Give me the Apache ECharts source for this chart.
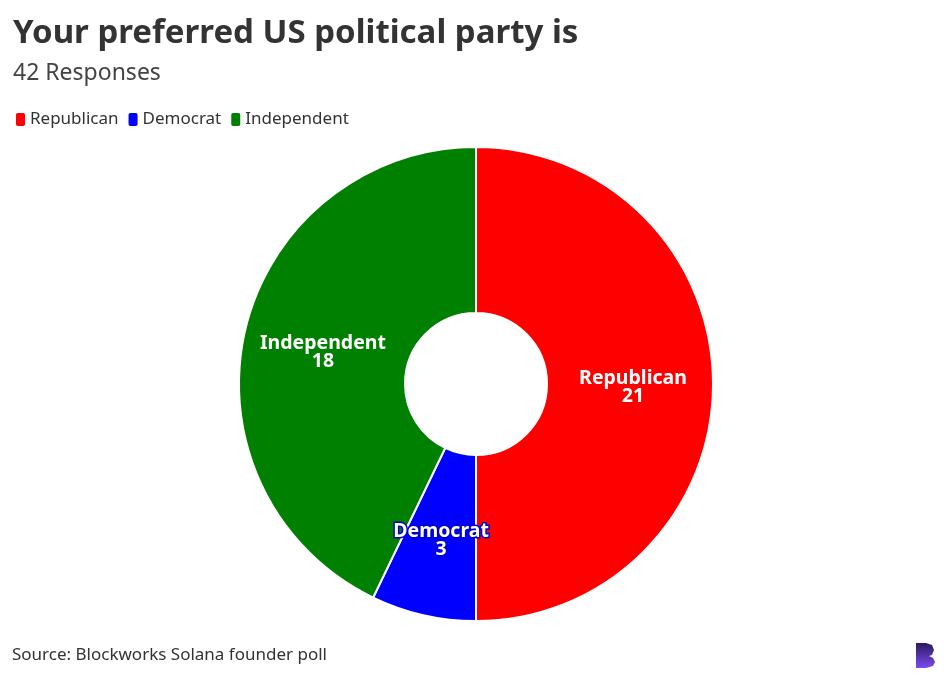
<!DOCTYPE html>
<html>
<head>
<meta charset="utf-8">
<script src="https://cdn.jsdelivr.net/npm/echarts@6/dist/echarts.min.js"></script>
<style>html,body{margin:0;padding:0;background:#fff}#chart{width:949px;height:691px}</style>
</head>
<body>
<div id="chart"></div>
<script>
const categories = ['Republican', 'Democrat', 'Independent'];
const values = [21, 3, 18];
const colors = ['#ff0000', '#0000ff', '#008000'];
const titleText = 'Your preferred US political party is';
const subtitleText = '42 Responses';
const sourceText = 'Source: Blockworks Solana founder poll';

const chart = echarts.init(document.getElementById('chart'));
const font = '"Noto Sans", "Open Sans", sans-serif';
chart.setOption({
  animation: false,
  color: colors,
  title: {
    text: titleText,
    subtext: subtitleText,
    left: 8,
    top: 12,
    itemGap: 12,
    textStyle: { fontFamily: font, fontSize: 33, fontWeight: 'bold', color: '#333333' },
    subtextStyle: { fontFamily: font, fontSize: 23, color: '#444444' }
  },
  legend: {
    left: 9,
    top: 106,
    icon: 'roundRect',
    itemWidth: 11,
    itemHeight: 15,
    itemGap: 8,
    textStyle: { fontFamily: font, fontSize: 17, color: '#333333', padding: [0, 0, 0, -1] },
    data: categories
  },
  series: [{
    type: 'pie',
    center: [476, 384],
    radius: [71, 237],
    startAngle: 90,
    clockwise: true,
    itemStyle: { borderColor: '#ffffff', borderWidth: 2 },
    label: {
      show: true,
      position: 'inside',
      formatter: '{b}\n{c}',
      fontFamily: font,
      fontSize: 19.5,
      fontWeight: 'bold',
      lineHeight: 18,
      offset: [0, 3],
      color: '#ffffff',
      textBorderWidth: 0
    },
    labelLine: { show: false },
    data: categories.map((c, i) => ({
      name: c,
      value: values[i],
      label: i === 1 ? { textBorderColor: '#0000cc', textBorderWidth: 3 } : {}
    }))
  }],
  graphic: [
    {
      type: 'text',
      left: 12,
      top: 647,
      style: { text: sourceText, fontFamily: font, fontSize: 17, fill: '#333333' }
    },
    {
      type: 'polygon',
      shape: {
        points: [[916,643],[926,643],[932,645],[934,650],[932,655],[929,656],[933,658],[935,662],[933,666],[926,668],[916,668]]
      },
      style: {
        fill: {
          type: 'linear', x: 0, y: 0, x2: 0, y2: 1,
          colorStops: [{ offset: 0, color: '#2a1a5e' }, { offset: 1, color: '#7a4cf0' }]
        }
      }
    }
  ]
});
</script>
</body>
</html>
